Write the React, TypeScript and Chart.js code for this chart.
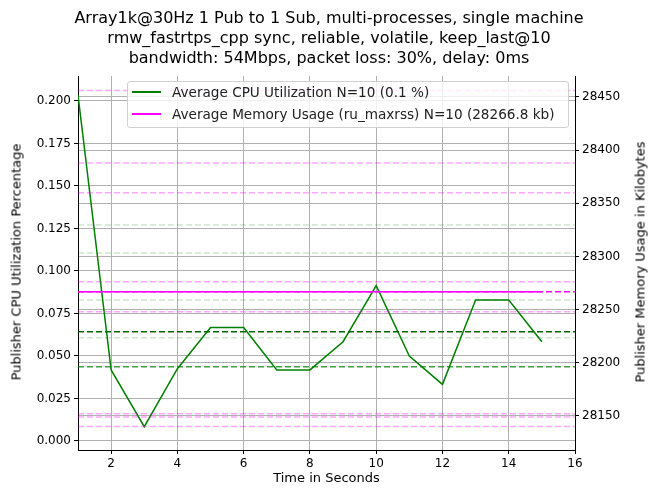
import { useEffect, useRef } from "react";
import { Chart, registerables } from "chart.js";

Chart.register(...registerables);

const seconds = [1, 2, 3, 4, 5, 6, 7, 8, 9, 10, 11, 12, 13, 14, 15];
const cpuValues = [0.2035, 0.0418, 0.0084, 0.0425, 0.0667, 0.0667, 0.0418, 0.0418, 0.0584, 0.0914, 0.05, 0.0333, 0.0829, 0.0829, 0.0584];
const memoryAvg = 28266.8;
const cpuMeanLine = 0.0643;
const cpuMedianLine = 0.0437;
const cpuLightLines = [0.127, 0.1106, 0.0829, 0.0608];
const memLightLines = [28456, 28388, 28360, 28276.3, 28248, 28152, 28149, 28140];
const xTicks = [2, 4, 6, 8, 10, 12, 14, 16];
const leftTicks = [0, 0.025, 0.05, 0.075, 0.1, 0.125, 0.15, 0.175, 0.2];
const rightTicks = [28150, 28200, 28250, 28300, 28350, 28400, 28450];

const FONT = "DejaVu Sans";

function hline(y: number, color: string, axis: string, dash: number[] | undefined, width = 1.5) {
  return {
    data: [{ x: 1, y }, { x: 16, y }],
    borderColor: color,
    borderWidth: width,
    borderDash: dash,
    pointRadius: 0,
    yAxisID: axis,
    fill: false,
  };
}

const vertLabel = (text: string, cx: number, cy: number) => (
  <div style={{ position: "absolute", left: cx, top: cy, transform: "translate(-50%,-50%) rotate(-90deg)", whiteSpace: "nowrap", fontSize: 13, color: "#000" }}>{text}</div>
);

export default function App() {
  const canvasRef = useRef<HTMLCanvasElement>(null);

  useEffect(() => {
    if (!canvasRef.current) return;
    const datasets: any[] = [
      ...memLightLines.map((v) => hline(v, "rgba(255,0,255,0.35)", "y2", [6, 3])),
      ...cpuLightLines.map((v) => hline(v, "rgba(0,128,0,0.2)", "y", [6, 3])),
      hline(cpuMeanLine, "#006400", "y", [6, 3]),
      hline(cpuMedianLine, "rgba(0,128,0,0.75)", "y", [6, 3]),
      hline(memoryAvg, "#ff00ff", "y2", [6, 3]),
      {
        data: seconds.map((x) => ({ x, y: memoryAvg })),
        borderColor: "#ff00ff",
        borderWidth: 1.5,
        pointRadius: 0,
        yAxisID: "y2",
      },
      {
        data: seconds.map((x, i) => ({ x, y: cpuValues[i] })),
        borderColor: "#008000",
        borderWidth: 1.5,
        pointRadius: 0,
        yAxisID: "y",
      },
    ];
    const chart = new Chart(canvasRef.current, {
      type: "line",
      data: { datasets },
      options: {
        animation: false,
        responsive: false,
        layout: { padding: { top: 76, left: 0, right: 0, bottom: 0 } },
        plugins: { legend: { display: false }, tooltip: { enabled: false } },
        scales: {
          x: {
            type: "linear",
            min: 1,
            max: 16,
            afterBuildTicks: (a: any) => { a.ticks = xTicks.map((value) => ({ value })); },
            afterFit: (a: any) => { a.height = 47; },
            grid: { color: "#b0b0b0", tickLength: 4, tickColor: "#000" },
            border: { color: "#000" },
            ticks: { color: "#000", font: { family: FONT, size: 12 } },
          },
          y: {
            min: -0.0053,
            max: 0.2147,
            afterBuildTicks: (a: any) => { a.ticks = leftTicks.map((value) => ({ value })); },
            afterFit: (a: any) => { a.width = 78; },
            grid: { color: "#b0b0b0", tickLength: 4, tickColor: "#000" },
            border: { color: "#000" },
            ticks: { color: "#000", font: { family: FONT, size: 12 }, callback: (v: any) => Number(v).toFixed(3) },
          },
          y2: {
            position: "right",
            min: 28118,
            max: 28469.7,
            afterBuildTicks: (a: any) => { a.ticks = rightTicks.map((value) => ({ value })); },
            afterFit: (a: any) => { a.width = 83; },
            grid: { color: "#b0b0b0", tickLength: 4, tickColor: "#000" },
            border: { color: "#000" },
            ticks: { color: "#000", font: { family: FONT, size: 12 }, callback: (v: any) => String(v) },
          },
        },
      },
    });
    return () => chart.destroy();
  }, []);

  return (
    <div style={{ position: "fixed", left: 0, top: 0, width: 658, height: 497, background: "#fff", fontFamily: FONT }}>
      <canvas ref={canvasRef} width={658} height={497} />
      <div style={{ position: "absolute", left: 0, top: 8, width: 658, textAlign: "center", fontSize: 16, lineHeight: "20px", color: "#000" }}>
        <div>Array1k@30Hz 1 Pub to 1 Sub, multi-processes, single machine</div>
        <div>rmw_fastrtps_cpp sync, reliable, volatile, keep_last@10</div>
        <div>bandwidth: 54Mbps, packet loss: 30%, delay: 0ms</div>
      </div>
      <div style={{ position: "absolute", left: 0, top: 470, width: 653, textAlign: "center", fontSize: 13, color: "#000" }}>Time in Seconds</div>
      {vertLabel("Publisher CPU Utilization Percentage", 16, 262)}
      {vertLabel("Publisher Memory Usage in Kilobytes", 640, 262)}
      <div style={{ position: "absolute", left: 127, top: 81, width: 442, height: 47, boxSizing: "border-box", border: "1px solid #d0d0d0", borderRadius: 3, background: "rgba(255,255,255,0.8)", fontSize: 13.6, color: "#222" }}>
        {[["#008000", "Average CPU Utilization N=10 (0.1 %)"], ["#ff00ff", "Average Memory Usage (ru_maxrss) N=10 (28266.8 kb)"]].map(([c, t], i) => (
          <div key={i} style={{ position: "absolute", left: 4, top: 2 + i * 22, display: "flex", alignItems: "center", whiteSpace: "nowrap" }}>
            <span style={{ display: "inline-block", width: 29, height: 2, background: c, marginRight: 11 }} />
            <span>{t}</span>
          </div>
        ))}
      </div>
    </div>
  );
}
